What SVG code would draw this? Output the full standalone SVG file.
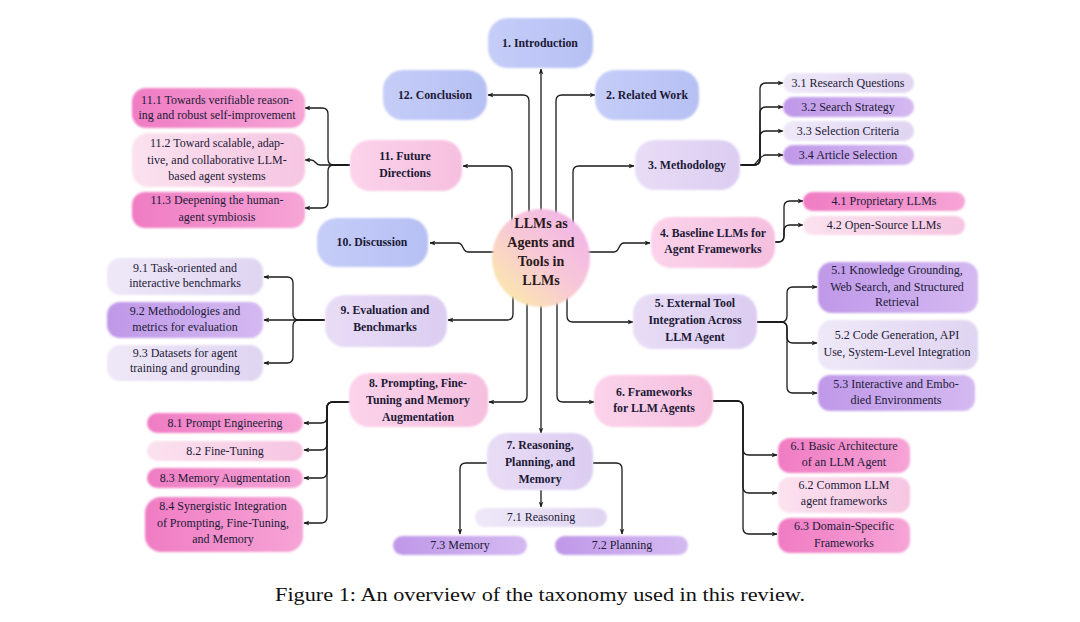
<svg xmlns="http://www.w3.org/2000/svg" width="1080" height="622" viewBox="0 0 1080 622">
<defs>
<style>
.m{font-family:"Liberation Serif",serif;font-weight:bold;font-size:11.8px;fill:#1c1a36;text-anchor:middle}
.s{font-family:"Liberation Serif",serif;font-size:12px;fill:#1c1a36;text-anchor:middle}
.c{font-family:"Liberation Serif",serif;font-weight:bold;font-size:14px;fill:#2a1a1a;text-anchor:middle}
.cap{font-family:"Liberation Serif",serif;font-size:19.5px;fill:#111}
.k{fill:none;stroke:#1a1a1a;stroke-width:1.3}
.blue{fill:url(#gBlue)}
.lav{fill:url(#gLav)}
.pk{fill:url(#gPk)}
.spk{fill:url(#gSPk)}
.lpk{fill:url(#gLPk)}
.pur{fill:url(#gPur)}
.llav{fill:url(#gLLav)}
</style>
<filter id="soft" x="-10%" y="-20%" width="120%" height="140%"><feGaussianBlur stdDeviation="0.9"/></filter>
<linearGradient id="gBlue" x1="0" y1="0" x2="1" y2="0"><stop offset="0" stop-color="#c5cdf8"/><stop offset="1" stop-color="#b6c0f3"/></linearGradient>
<linearGradient id="gLav" x1="0" y1="0" x2="1" y2="0"><stop offset="0" stop-color="#e8dcf6"/><stop offset="1" stop-color="#dccdf1"/></linearGradient>
<linearGradient id="gPk" x1="0" y1="0" x2="1" y2="0"><stop offset="0" stop-color="#fbd3ea"/><stop offset="1" stop-color="#f6bfdf"/></linearGradient>
<linearGradient id="gSPk" x1="0" y1="0" x2="1" y2="0"><stop offset="0" stop-color="#f07cc3"/><stop offset="1" stop-color="#f6a4d6"/></linearGradient>
<linearGradient id="gLPk" x1="0" y1="0" x2="1" y2="0"><stop offset="0" stop-color="#fbe2ef"/><stop offset="1" stop-color="#f6c5e1"/></linearGradient>
<linearGradient id="gPur" x1="0" y1="0" x2="1" y2="0"><stop offset="0" stop-color="#bf98e8"/><stop offset="1" stop-color="#d4b9f1"/></linearGradient>
<linearGradient id="gLLav" x1="0" y1="0" x2="1" y2="0"><stop offset="0" stop-color="#eee8f8"/><stop offset="1" stop-color="#e0d5f2"/></linearGradient>
<linearGradient id="gCenter" x1="0" y1="1" x2="1" y2="0"><stop offset="0" stop-color="#fbf0a0"/><stop offset="0.5" stop-color="#f8c8d6"/><stop offset="1" stop-color="#efb0ec"/></linearGradient>
<marker id="ah" viewBox="0 0 10 10" refX="9" refY="5" markerWidth="6" markerHeight="6" orient="auto" markerUnits="userSpaceOnUse"><path d="M0,1 L10,5 L0,9 L3,5 z" fill="#1a1a1a"/></marker>
</defs>
<rect width="1080" height="622" fill="#ffffff"/>

<g id="connectors" class="k" marker-end="url(#ah)">
<path d="M512,230 V172 Q512,166 506,166 H463"/>
<path d="M529,230 V101 Q529,95 523,95 H488"/>
<path d="M541,230 V69"/>
<path d="M556,230 V101 Q556,95 562,95 H595"/>
<path d="M573,230 V172 Q573,166 579,166 H634"/>
<path d="M500,252 H468 C462,252 464,243 458,243 H430"/>
<path d="M585,252 H614 C620,252 618,243 624,243 H650"/>
<path d="M513,290 V314 Q513,320 507,320 H448"/>
<path d="M527,295 V396 Q527,402 521,402 H489"/>
<path d="M541,300 V433"/>
<path d="M557,295 V396 Q557,402 563,402 H594"/>
<path d="M567,290 V316 Q567,322 573,322 H633"/>
<path d="M740,165 H754 Q760,165 760,159 V89 Q760,83 766,83 H783"/>
<path d="M740,165 H754 Q760,165 760,159 V113 Q760,107 766,107 H783"/>
<path d="M740,165 H754 Q760,165 760,159 V137 Q760,131 766,131 H783"/>
<path d="M740,165 H752 C758,165 758,155 766,155 H783"/>
<path d="M775,242 H778 Q784,242 784,236 V207 Q784,201 790,201 H803"/>
<path d="M775,242 H778 Q784,242 784,236 V231 Q784,225 790,225 H803"/>
<path d="M757,322 H781 Q787,322 787,316 V293 Q787,287 793,287 H817"/>
<path d="M757,322 H781 Q787,322 787,328 V337 Q787,343 793,343 H817"/>
<path d="M757,322 H781 Q787,322 787,328 V387 Q787,393 793,393 H817"/>
<path d="M713,401 H737 Q743,401 743,407 V449 Q743,455 749,455 H777"/>
<path d="M713,401 H737 Q743,401 743,407 V487 Q743,493 749,493 H777"/>
<path d="M713,401 H737 Q743,401 743,407 V528 Q743,534 749,534 H777"/>
<path d="M487,463 H466 Q460,463 460,469 V534"/>
<path d="M593,463 H616 Q622,463 622,469 V534"/>
<path d="M541,490 V507"/>
<path d="M350,402 H333 Q327,402 327,408 V417 Q327,423 321,423 H304"/>
<path d="M350,402 H333 Q327,402 327,408 V444 Q327,450 321,450 H304"/>
<path d="M350,402 H333 Q327,402 327,408 V472 Q327,478 321,478 H304"/>
<path d="M350,402 H333 Q327,402 327,408 V517 Q327,523 321,523 H304"/>
<path d="M325,320 H299 Q293,320 293,314 V283 Q293,277 287,277 H264"/>
<path d="M325,320 H264"/>
<path d="M325,320 H299 Q293,320 293,326 V357 Q293,363 287,363 H264"/>
<path d="M350,165 H334 Q328,165 328,159 V114 Q328,108 322,108 H305"/>
<path d="M350,165 H320 C315,165 316,160 311,160 H305"/>
<path d="M350,165 H334 Q328,165 328,171 V202 Q328,208 322,208 H305"/>
</g>

<g id="center">
<circle cx="541" cy="258" r="49" fill="url(#gCenter)" filter="url(#soft)"/>
<text class="c" x="541" y="228">LLMs as</text>
<text class="c" x="541" y="247">Agents and</text>
<text class="c" x="541" y="266">Tools in</text>
<text class="c" x="541" y="285">LLMs</text>
</g>

<g id="n1"><rect class="blue" x="488" y="18" width="105" height="50" rx="20" filter="url(#soft)"/><text class="m" x="540" y="47">1. Introduction</text></g>
<g id="n12"><rect class="blue" x="383" y="70" width="104" height="50" rx="20" filter="url(#soft)"/><text class="m" x="435" y="99">12. Conclusion</text></g>
<g id="n2"><rect class="blue" x="595" y="70" width="104" height="50" rx="20" filter="url(#soft)"/><text class="m" x="647" y="99">2. Related Work</text></g>
<g id="n10"><rect class="blue" x="317" y="218" width="111" height="49" rx="20" filter="url(#soft)"/><text class="m" x="372" y="246">10. Discussion</text></g>

<g id="n3"><rect class="lav" x="635" y="140" width="105" height="50" rx="20" filter="url(#soft)"/><text class="m" x="687" y="169">3. Methodology</text></g>
<g id="n4"><rect class="pk" x="651" y="217" width="124" height="51" rx="20" filter="url(#soft)"/><text class="m" x="713" y="237">4. Baseline LLMs for</text><text class="m" x="713" y="253">Agent Frameworks</text></g>
<g id="n5"><rect class="lav" x="633" y="294" width="124" height="55" rx="20" filter="url(#soft)"/><text class="m" x="695" y="307">5. External Tool</text><text class="m" x="695" y="324">Integration Across</text><text class="m" x="695" y="341">LLM Agent</text></g>
<g id="n6"><rect class="pk" x="594" y="375" width="119" height="52" rx="20" filter="url(#soft)"/><text class="m" x="654" y="396">6. Frameworks</text><text class="m" x="654" y="412">for LLM Agents</text></g>
<g id="n7"><rect class="lav" x="487" y="433" width="106" height="57" rx="20" filter="url(#soft)"/><text class="m" x="540" y="449">7. Reasoning,</text><text class="m" x="540" y="466">Planning, and</text><text class="m" x="540" y="483">Memory</text></g>
<g id="n8"><rect class="pk" x="349" y="373" width="139" height="54" rx="20" filter="url(#soft)"/><text class="m" x="418" y="387">8. Prompting, Fine-</text><text class="m" x="418" y="404">Tuning and Memory</text><text class="m" x="418" y="421">Augmentation</text></g>
<g id="n9"><rect class="lav" x="325" y="295" width="122" height="52" rx="20" filter="url(#soft)"/><text class="m" x="385" y="314">9. Evaluation and</text><text class="m" x="385" y="331">Benchmarks</text></g>
<g id="n11"><rect class="pk" x="350" y="140" width="112" height="51" rx="20" filter="url(#soft)"/><text class="m" x="405" y="160">11. Future</text><text class="m" x="405" y="177">Directions</text></g>

<g id="n3_1"><rect class="llav" x="783" y="73" width="131" height="20" rx="10" filter="url(#soft)"/><text class="s" x="848" y="87">3.1 Research Questions</text></g>
<g id="n3_2"><rect class="pur" x="783" y="97" width="131" height="20" rx="10" filter="url(#soft)"/><text class="s" x="848" y="111">3.2 Search Strategy</text></g>
<g id="n3_3"><rect class="llav" x="783" y="121" width="131" height="20" rx="10" filter="url(#soft)"/><text class="s" x="848" y="135">3.3 Selection Criteria</text></g>
<g id="n3_4"><rect class="pur" x="783" y="145" width="131" height="20" rx="10" filter="url(#soft)"/><text class="s" x="848" y="159">3.4 Article Selection</text></g>

<g id="n4_1"><rect class="spk" x="803" y="192" width="162" height="19" rx="9.5" filter="url(#soft)"/><text class="s" x="884" y="205">4.1 Proprietary LLMs</text></g>
<g id="n4_2"><rect class="lpk" x="803" y="216" width="162" height="19" rx="9.5" filter="url(#soft)"/><text class="s" x="884" y="229">4.2 Open-Source LLMs</text></g>

<g id="n5_1"><rect class="pur" x="818" y="262" width="160" height="51" rx="14" filter="url(#soft)"/><text class="s" x="897" y="274">5.1 Knowledge Grounding,</text><text class="s" x="897" y="291">Web Search, and Structured</text><text class="s" x="897" y="306">Retrieval</text></g>
<g id="n5_2"><rect class="llav" x="818" y="320" width="160" height="50" rx="14" filter="url(#soft)"/><text class="s" x="897" y="339">5.2 Code Generation, API</text><text class="s" x="897" y="356">Use, System-Level Integration</text></g>
<g id="n5_3"><rect class="pur" x="818" y="375" width="157" height="36" rx="12" filter="url(#soft)"/><text class="s" x="896" y="388">5.3 Interactive and Embo-</text><text class="s" x="896" y="404">died Environments</text></g>

<g id="n6_1"><rect class="spk" x="778" y="438" width="132" height="35" rx="12" filter="url(#soft)"/><text class="s" x="844" y="450">6.1 Basic Architecture</text><text class="s" x="844" y="466">of an LLM Agent</text></g>
<g id="n6_2"><rect class="lpk" x="778" y="477" width="132" height="36" rx="12" filter="url(#soft)"/><text class="s" x="844" y="489">6.2 Common LLM</text><text class="s" x="844" y="505">agent frameworks</text></g>
<g id="n6_3"><rect class="spk" x="778" y="518" width="132" height="35" rx="12" filter="url(#soft)"/><text class="s" x="844" y="530">6.3 Domain-Specific</text><text class="s" x="844" y="547">Frameworks</text></g>

<g id="n7_1"><rect class="llav" x="475" y="508" width="132" height="19" rx="9.5" filter="url(#soft)"/><text class="s" x="541" y="521">7.1 Reasoning</text></g>
<g id="n7_3"><rect class="pur" x="393" y="536" width="134" height="19" rx="9.5" filter="url(#soft)"/><text class="s" x="460" y="549">7.3 Memory</text></g>
<g id="n7_2"><rect class="pur" x="555" y="536" width="133" height="19" rx="9.5" filter="url(#soft)"/><text class="s" x="622" y="549">7.2 Planning</text></g>

<g id="n8_1"><rect class="spk" x="147" y="413" width="156" height="20" rx="10" filter="url(#soft)"/><text class="s" x="225" y="427">8.1 Prompt Engineering</text></g>
<g id="n8_2"><rect class="lpk" x="147" y="441" width="156" height="20" rx="10" filter="url(#soft)"/><text class="s" x="225" y="455">8.2 Fine-Tuning</text></g>
<g id="n8_3"><rect class="spk" x="147" y="468" width="156" height="20" rx="10" filter="url(#soft)"/><text class="s" x="225" y="482">8.3 Memory Augmentation</text></g>
<g id="n8_4"><rect class="spk" x="145" y="497" width="158" height="55" rx="16" filter="url(#soft)"/><text class="s" x="223" y="510">8.4 Synergistic Integration</text><text class="s" x="223" y="527">of Prompting, Fine-Tuning,</text><text class="s" x="223" y="543">and Memory</text></g>

<g id="n9_1"><rect class="llav" x="107" y="258" width="156" height="37" rx="13" filter="url(#soft)"/><text class="s" x="185" y="272">9.1 Task-oriented and</text><text class="s" x="185" y="287">interactive benchmarks</text></g>
<g id="n9_2"><rect class="pur" x="107" y="302" width="156" height="36" rx="13" filter="url(#soft)"/><text class="s" x="185" y="315">9.2 Methodologies and</text><text class="s" x="185" y="331">metrics for evaluation</text></g>
<g id="n9_3"><rect class="llav" x="107" y="345" width="156" height="36" rx="13" filter="url(#soft)"/><text class="s" x="185" y="357">9.3 Datasets for agent</text><text class="s" x="185" y="372">training and grounding</text></g>

<g id="n11_1"><rect class="spk" x="132" y="88" width="173" height="40" rx="14" filter="url(#soft)"/><text class="s" x="217" y="104">11.1 Towards verifiable reason-</text><text class="s" x="217" y="119">ing and robust self-improvement</text></g>
<g id="n11_2"><rect class="lpk" x="132" y="133" width="173" height="54" rx="16" filter="url(#soft)"/><text class="s" x="217" y="147">11.2 Toward scalable, adap-</text><text class="s" x="217" y="164">tive, and collaborative LLM-</text><text class="s" x="217" y="180">based agent systems</text></g>
<g id="n11_3"><rect class="spk" x="132" y="192" width="173" height="36" rx="13" filter="url(#soft)"/><text class="s" x="217" y="204">11.3 Deepening the human-</text><text class="s" x="217" y="221">agent symbiosis</text></g>

<text class="cap" x="275" y="601" textLength="530" lengthAdjust="spacingAndGlyphs">Figure 1: An overview of the taxonomy used in this review.</text>
</svg>
